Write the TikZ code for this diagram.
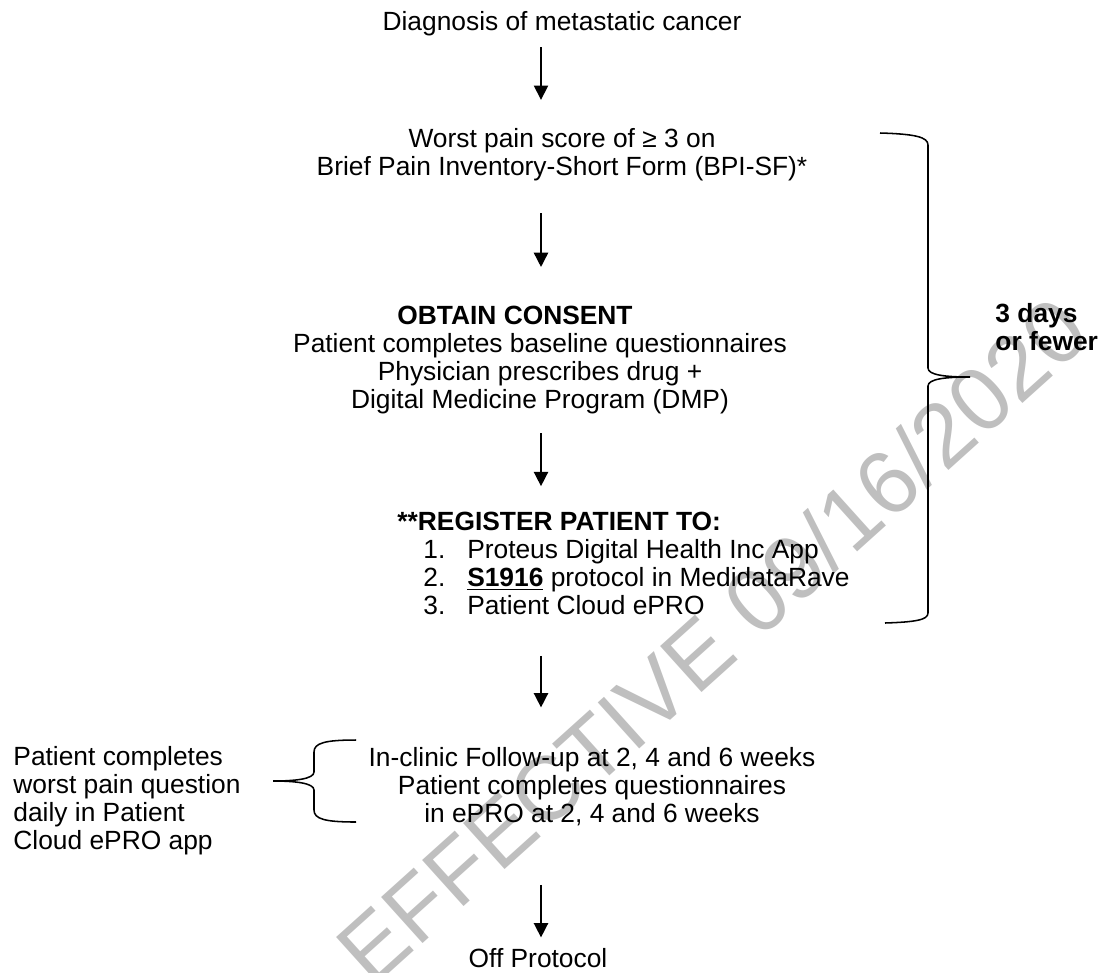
\documentclass[tikz,border=0pt]{standalone}
\usepackage{fontspec}
\setmainfont{Liberation Sans}
\usepackage{tikz}
\usetikzlibrary{arrows.meta}
\tikzstyle{arrow} = [line width=0.7pt, -{Triangle[length=6.5pt,width=6.5pt]}]
\tikzstyle{flowtext} = [inner sep=0pt, align=center, font=\fontsize{12}{12.75}\selectfont]
\tikzstyle{sidetext} = [inner sep=0pt, align=left, font=\fontsize{12}{12.75}\selectfont]
\tikzstyle{brace} = [line width=0.7pt]
\tikzstyle{watermark} = [inner sep=0pt, text=black!25, font=\fontsize{41}{41}\selectfont]

\begin{document}
\begin{tikzpicture}[x=0.016cm, y=-0.016cm]
    \useasboundingbox (0,0) rectangle (1105,972);
    \clip (0,0) rectangle (1105,972);

    % Watermark
    \node[watermark, rotate=42] (wm) at (712,640) {EFFECTIVE 09/16/2020};

    % Main column
    \coordinate (col) at (541,0);
    \node[flowtext, anchor=base] (diag) at (562,30) {Diagnosis of metastatic cancer};
    \node[flowtext, anchor=base] (worst) at (562,175) {Worst pain score of ≥ 3 on\\Brief Pain Inventory-Short Form (BPI-SF)*};
    \node[flowtext, anchor=base] (conshead) at (515,324) {\textbf{OBTAIN CONSENT}};
    \node[flowtext, anchor=base] (cons) at (540,408) {Patient completes baseline questionnaires\\Physician prescribes drug +\\Digital Medicine Program (DMP)};
    \node[sidetext, anchor=base west] (reg) at (397,614) {\textbf{**REGISTER PATIENT TO:}\\
        \hspace*{11.8pt}\makebox[20pt][l]{1.}Proteus Digital Health Inc App\\
        \hspace*{11.8pt}\makebox[20pt][l]{2.}\underline{\textbf{S1916}} protocol in MedidataRave\\
        \hspace*{11.8pt}\makebox[20pt][l]{3.}Patient Cloud ePRO};
    \node[flowtext, anchor=base] (follow) at (592,822) {In-clinic Follow-up at 2, 4 and 6 weeks\\Patient completes questionnaires\\in ePRO at 2, 4 and 6 weeks};
    \node[flowtext, anchor=base] (off) at (538,967) {Off Protocol};

    % Side notes
    \node[sidetext, anchor=base west] (daily) at (13,849) {Patient completes\\worst pain question\\daily in Patient\\Cloud ePRO app};
    \node[sidetext, anchor=base west] (days) at (995,350) {\textbf{3 days}\\\textbf{or fewer}};

    % Arrows
    \draw[arrow, shorten <=5.2pt, shorten >=12.6pt] (diag.south -| col) -- (worst.north -| col);
    \draw[arrow, shorten <=14.8pt, shorten >=17.4pt] (worst.south -| col) -- (conshead.north -| col);
    \draw[arrow, shorten <=8.9pt, shorten >=11.4pt] (cons.south -| col) -- (reg.north -| col);
    \draw[arrow, shorten <=18.7pt, shorten >=17.8pt] (reg.south -| col) -- (follow.north -| col);
    \draw[arrow, shorten <=26.9pt, shorten >=4.6pt] (follow.south -| col) -- (off.north -| col);

    % Braces
    \draw[brace] (880,133) .. controls (915,134) and (928,137) .. (928,145) -- (928,368)
        .. controls (928,375) and (945,377) .. (970,377)
        .. controls (945,377) and (928,379) .. (928,386) -- (928,613)
        .. controls (928,620) and (915,622) .. (885,623);
    \draw[brace] (356,740) .. controls (325,740) and (314,743) .. (314,752) -- (314,772)
        .. controls (314,779) and (295,781) .. (273,781)
        .. controls (295,781) and (314,783) .. (314,790) -- (314,810)
        .. controls (314,819) and (325,822) .. (356,822);
\end{tikzpicture}
\end{document}
